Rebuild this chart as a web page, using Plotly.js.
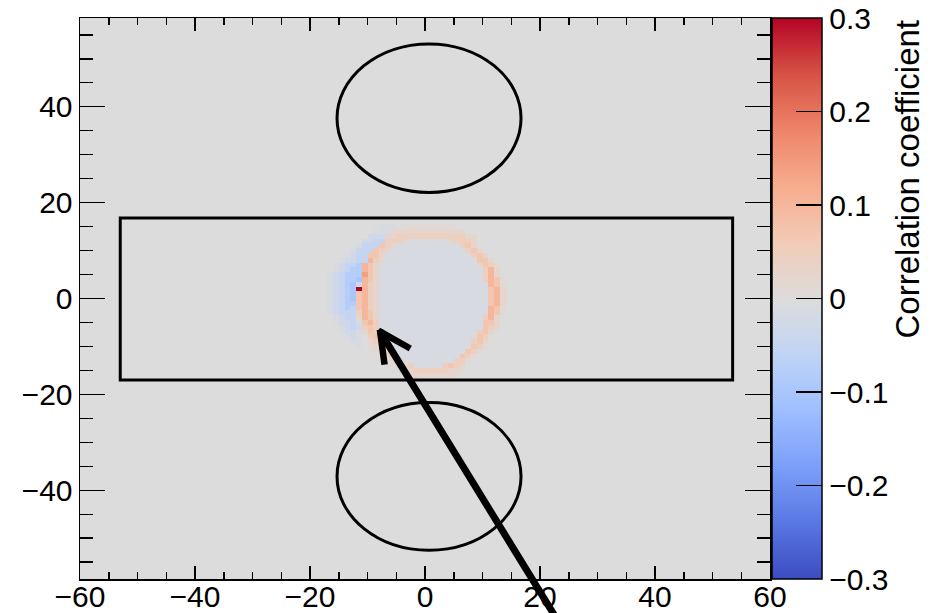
<!DOCTYPE html>
<html>
<head>
<meta charset="utf-8">
<script src="https://cdn.plot.ly/plotly-3.0.1.min.js"></script>
<style>
  html, body { margin: 0; padding: 0; background: #ffffff; }
  #chart { width: 935px; height: 613px; }
</style>
</head>
<body>
<div id="chart"></div>
<script>
// Correlation map: 1 x 1 bins, x in [-60, 60], y in [-58.5, 58.5].
const xEdgeLow = -60;
const yCentreLow = -58;
const nBinsX = 120;
const nBinsY = 117;

// Correlation levels used in the central region of the map.
const levelKeys   = ['.', ',', '-', '=', 'b', 'B', 'C', '+', 'o', 'O', '#', '@', 'R'];
const levelValues = [0.0, 0.01, -0.012, -0.03, -0.05, -0.08, -0.10, 0.025, 0.045, 0.07, 0.10, 0.14, 0.30];

// Central region: columns are bins centred at x = -17.5 ... 16.5,
// rows are bins centred at y = 16 (first) down to y = -16 (last).
const regionFirstX = -17.5;
const regionTopY = 16;
const regionRows = [
  "...................................",
  "..........---.,,,,,,,,,............",
  ".........---+++++++++++++..........",
  "........===++oooooooooooo++........",
  ".......==bbooo+-------+ooo+........",
  "......-bbbOo+-----------oO+........",
  ".....-bbbOo+-------------oO+.......",
  "....-=bbOO+---------------oO+......",
  "...-==bb#o+----------------OO+.....",
  "..-=bbB#O+-----------------+Oo,....",
  "..-=bBB#O+------------------o#+....",
  ".-=bBBB@O+------------------o#+....",
  ".-=bBBC#O+------------------o#O,...",
  ".-=bBC=#o+-------------------#O,...",
  ".-=bBCR#o+-------------------O#+...",
  ".-=bBCO#o+-------------------O#+...",
  ".-=bBCO#o+-------------------O#+...",
  ".-=bBBO#o+-------------------O#+...",
  ".-=bBbO#o+-------------------#O,...",
  ".-=bbbo#O+-------------------#O,...",
  "..-=bb+#O+------------------o#+....",
  "..-==b-O#o------------------OO+....",
  "...-=b=oOo------------------Oo+....",
  "...-==-+Oo+----------------oO+.....",
  "....-=-.oO+----------------Oo,.....",
  ".....--.+oo---------------oO+......",
  "......-.,+o---------------Oo,......",
  "........,,+o-------------Oo,.......",
  ".........,,+o-----------Oo,........",
  "..........,,+o---------oo,.........",
  "...........,,++o-----oOo+..........",
  ".............,++oooooo++,..........",
  "..............,++++++++,..........."
];

// Axis and colour-bar tick values.
const xTickVals = [-60, -40, -20, 0, 20, 40, 60];
const yTickVals = [-40, -20, 0, 20, 40];
const cbTickVals = [-0.3, -0.2, -0.1, 0, 0.1, 0.2, 0.3];

// Build the full bin matrix (rows bottom to top); bins away from the
// central region sit at zero correlation.
const levelOf = {};
levelKeys.forEach((k, i) => { levelOf[k] = levelValues[i]; });
const z = [];
for (let j = 0; j < nBinsY; j++) {
  z.push(new Array(nBinsX).fill(0));
}
regionRows.forEach((line, r) => {
  const yc = regionTopY - r;
  const j = yc - yCentreLow;
  for (let c = 0; c < line.length; c++) {
    const xc = regionFirstX + c;
    const i = Math.round(xc - (xEdgeLow + 0.5));
    if (j >= 0 && j < nBinsY && i >= 0 && i < nBinsX) {
      const v = levelOf[line[c]];
      z[j][i] = (v === undefined) ? 0 : v;
    }
  }
});

// Diverging blue-grey-red scale.
const coolWarm = [
  [0.0, '#3b4cc0'], [0.1, '#5977e3'], [0.2, '#7b9ff9'], [0.3, '#9ebeff'],
  [0.4, '#c0d4f5'], [0.5, '#dddcdc'], [0.6, '#f2cbb7'], [0.7, '#f7ac8e'],
  [0.8, '#ee8468'], [0.9, '#d65244'], [1.0, '#b40426']
];

const heat = {
  type: 'heatmap',
  z: z,
  x0: xEdgeLow + 0.5, dx: 1,
  y0: yCentreLow, dy: 1,
  zmin: -0.3, zmax: 0.3,
  zsmooth: false,
  colorscale: coolWarm,
  hoverinfo: 'skip',
  colorbar: {
    x: 1.003, xanchor: 'left', xpad: 0,
    y: 0.5, yanchor: 'middle', ypad: 0,
    len: 1, lenmode: 'fraction',
    thickness: 50, thicknessmode: 'pixels',
    outlinewidth: 1.5, outlinecolor: '#000000',
    tickmode: 'array', tickvals: cbTickVals,
    ticks: 'inside', ticklen: 26, tickwidth: 1.5, tickcolor: '#000000',
    tickfont: { size: 30, color: '#000000' }
  }
};

const axisLine = {
  showline: true, linecolor: '#000000', linewidth: 1.5,
  mirror: 'allticks', showgrid: false, zeroline: false,
  ticks: 'inside', tickwidth: 1.5, tickcolor: '#000000',
  tickfont: { size: 30, color: '#000000' }
};

// Outline of the region boundaries.
const black = { color: '#000000', width: 3 };
const shapes = [
  { type: 'rect', xref: 'x', yref: 'y', x0: -53, x1: 53.5, y0: -17, y1: 16.8, line: black, layer: 'above' },
  { type: 'circle', xref: 'x', yref: 'y', x0: -15.3, x1: 16.7, y0: 22.1, y1: 53.1, line: black, layer: 'above' },
  { type: 'circle', xref: 'x', yref: 'y', x0: -15.3, x1: 16.7, y0: -52.5, y1: -21.7, line: black, layer: 'above' }
];

// Pointer arrow: shaft plus two head strokes meeting at the tip.
function stroke(tipX, tipY, fromX, fromY, w) {
  return {
    x: tipX, y: tipY, ax: fromX, ay: fromY,
    xref: 'x', yref: 'y', axref: 'x', ayref: 'y',
    text: '', showarrow: true, arrowhead: 0, arrowwidth: w,
    arrowcolor: '#000000', standoff: 0, startstandoff: 0
  };
}
const annotations = [
  stroke(-7.8, -6.9, 23.5, -68, 7),
  stroke(-8.1, -6.7, -2.3, -10.6, 6.5),
  stroke(-7.85, -6.5, -7.0, -14.1, 6.5),
  {
    xref: 'paper', yref: 'paper', x: 1.1986, y: 1.0,
    xanchor: 'center', yanchor: 'top',
    text: 'Correlation coefficient', textangle: -90, showarrow: false,
    font: { size: 33, color: '#000000' }
  }
];

const layout = {
  width: 935, height: 613,
  margin: { l: 80, r: 165, t: 18, b: 34, pad: 0 },
  paper_bgcolor: '#ffffff', plot_bgcolor: '#dddcdc',
  font: { family: '"Liberation Sans", Arial, sans-serif', size: 30, color: '#000000' },
  showlegend: false,
  xaxis: Object.assign({}, axisLine, {
    range: [-60, 60], tickmode: 'array', tickvals: xTickVals, ticklen: 13,
    ticklabelstandoff: -10,
    minor: { tickmode: 'linear', tick0: 0, dtick: 5, ticks: 'inside', ticklen: 7, tickwidth: 1.5, tickcolor: '#000000', showgrid: false }
  }),
  yaxis: Object.assign({}, axisLine, {
    range: [-58.5, 58.5], tickmode: 'array', tickvals: yTickVals, ticklen: 25,
    minor: { tickmode: 'linear', tick0: 0, dtick: 5, ticks: 'inside', ticklen: 13, tickwidth: 1.5, tickcolor: '#000000', showgrid: false }
  }),
  shapes: shapes,
  annotations: annotations
};

Plotly.newPlot('chart', [heat], layout, { staticPlot: true, displayModeBar: false });
</script>
</body>
</html>
